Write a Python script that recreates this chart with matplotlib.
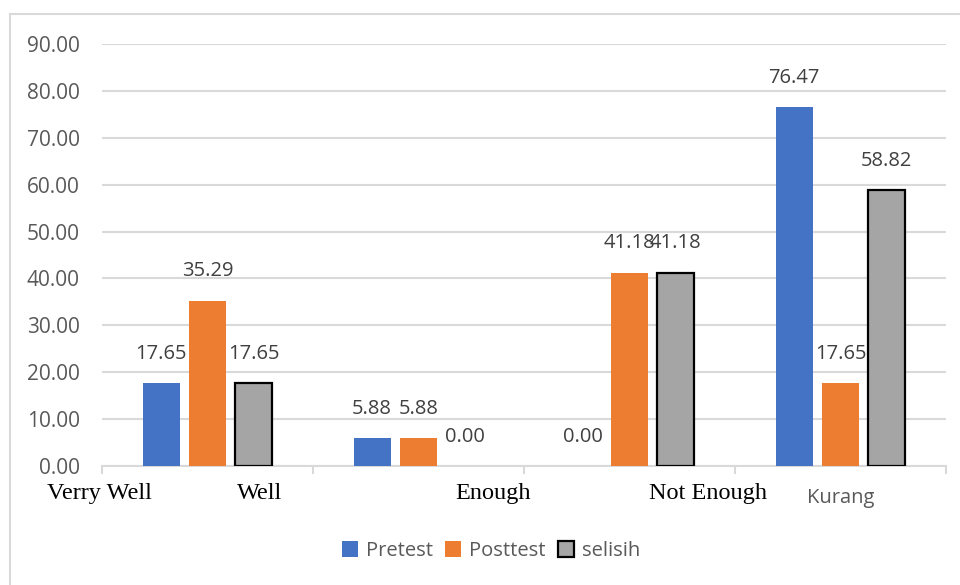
import matplotlib
matplotlib.use("Agg")
import matplotlib.pyplot as plt
from matplotlib.lines import Line2D
import numpy as np

groups = ["", "", "", "Kurang"]
overlay_labels = ["Verry Well", "Well", "Enough", "Not Enough"]
overlay_pos = [-0.514, 0.249, 1.353, 2.372]
series_names = ["Pretest", "Posttest", "selisih"]
pretest = [17.65, 5.88, 0.00, 76.47]
posttest = [35.29, 5.88, 41.18, 17.65]
selisih = [17.65, 0.00, 41.18, 58.82]
yticks = [0, 10, 20, 30, 40, 50, 60, 70, 80, 90]

colors = ["#4472C4", "#ED7D31", "#A5A5A5"]
edges = ["none", "none", "black"]
FONT = "Open Sans"

fig = plt.figure(figsize=(9.6, 5.85), dpi=100)
ax = fig.add_axes([102/960, 1-466/585, (946-102)/960, (466-44)/585])

x = np.arange(len(groups))
width = 0.175
step = 0.22
series = [pretest, posttest, selisih]
for j, (name, vals) in enumerate(zip(series_names, series)):
    xs = x + (j-1)*step
    lws = [1.6 if (edges[j] != "none" and v > 0) else 0 for v in vals]
    ax.bar(xs, vals, width, color=colors[j], label=name,
           edgecolor=edges[j], linewidth=lws, zorder=3)
    for xi, v in zip(xs, vals):
        ax.annotate(f"{v:.2f}", (xi, v), xytext=(0, 14), textcoords="offset points",
                    ha="center", va="bottom", fontsize=14.5, color="#404040", family=FONT)

ax.set_xlim(-0.5, 3.5)
ax.set_ylim(0, 90)
ax.set_yticks(yticks)
ax.set_yticklabels([f"{t:.2f}" for t in yticks], fontsize=15, color="#595959", family=FONT)
ax.yaxis.grid(True, color="#d9d9d9", linewidth=1.5, zorder=0)
ax.set_axisbelow(True)
ax.tick_params(axis="y", length=0, pad=16)
ax.set_xticks(x)
ax.set_xticklabels(groups, fontsize=14.5, color="#595959", family=FONT)
ax.tick_params(axis="x", which="major", length=0, pad=16)
ax.set_xticks(np.arange(-0.5, 4.0, 1.0), minor=True)
ax.tick_params(axis="x", which="minor", length=6, color="#d9d9d9", width=1.5)
for s in ["top", "right", "left"]:
    ax.spines[s].set_visible(False)
ax.spines["bottom"].set_color("#d9d9d9")
ax.spines["bottom"].set_linewidth(1.5)

for lab, p in zip(overlay_labels, overlay_pos):
    ax.text(p, -0.065, lab, transform=ax.get_xaxis_transform(), ha="center", va="center",
            fontsize=17.5, family="Liberation Serif", color="black")

handles = [plt.Rectangle((0, 0), 1, 1, facecolor=colors[j], edgecolor=edges[j],
                         linewidth=1.6 if edges[j] != "none" else 0) for j in range(3)]
fig.legend(handles, series_names, loc="center", bbox_to_anchor=(491/960, 1-551/585),
           ncol=3, frameon=False, prop={"family": FONT, "size": 14.5},
           handlelength=0.8, handleheight=0.8, handletextpad=0.4, columnspacing=0.6,
           labelcolor="#595959")

fig.add_artist(Line2D([10/960, 10/960], [0, 1-14/585], transform=fig.transFigure,
                      color="#d9d9d9", linewidth=1.5))
fig.add_artist(Line2D([10/960, 1], [1-14/585, 1-14/585], transform=fig.transFigure,
                      color="#d9d9d9", linewidth=1.5))

fig.savefig("out.png", dpi=100)
